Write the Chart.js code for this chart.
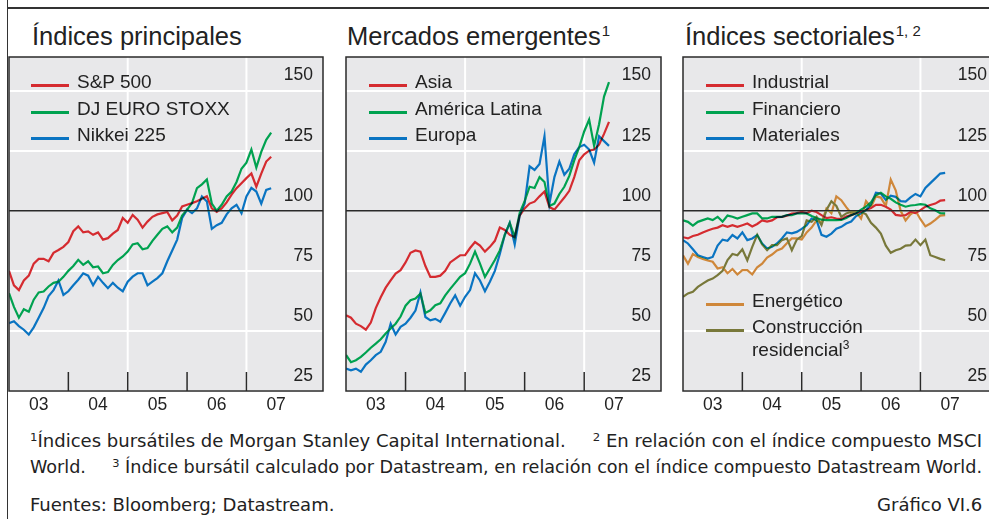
<!DOCTYPE html>
<html>
<head>
<meta charset="utf-8">
<script src="https://cdn.jsdelivr.net/npm/chart.js@4.4.1/dist/chart.umd.min.js"></script>
<style>
  html, body { margin: 0; padding: 0; background: #fff; }
  body { width: 989px; height: 519px; position: relative; overflow: hidden;
         font-family: "Liberation Sans", Arial, sans-serif; color: #222; }
  .frameV { position: absolute; left: 6.5px; top: 0; width: 1.5px; height: 519px; background: #333; }
  .frameH { position: absolute; left: 6.5px; top: 7px; width: 990px; height: 1.5px; background: #333; }
  .title { position: absolute; top: 24px; font-size: 25.5px; line-height: 25px; white-space: nowrap; }
  .title sup { font-size: 15px; vertical-align: 0; position: relative; top: -9px; margin-left: 1px; }
  canvas { position: absolute; top: 55px; }
  .leg { position: absolute; font-size: 19px; line-height: 19px; white-space: nowrap; }
  .leg i { position: absolute; left: -46px; top: 12px; width: 38px; height: 3px; }
  .leg sup { font-size: 12px; vertical-align: 0; position: relative; top: -7px; }
  .note { position: absolute; left: 30px; font-size: 17px; line-height: 17px; white-space: nowrap;
          font-family: "Liberation Sans Narrow", "DejaVu Sans Condensed", "Liberation Sans", sans-serif;
          transform-origin: left top; }
  .note sup { font-size: 11px; vertical-align: 0; position: relative; top: -6px; }
  .note.right { left: auto; right: 7px; transform-origin: right top; }
</style>
</head>
<body>
<div class="frameV"></div>
<div class="frameH"></div>

<div class="title" style="left:32px">Índices principales</div>
<div class="title" style="left:347px">Mercados emergentes<sup>1</sup></div>
<div class="title" style="left:685px">Índices sectoriales<sup>1, 2</sup></div>

<canvas id="c1" width="318" height="366" style="left:7px"></canvas>
<canvas id="c2" width="319" height="366" style="left:344px"></canvas>
<canvas id="c3" width="318" height="366" style="left:681px"></canvas>

<div id="legends"></div>

<div class="note fit" style="top:433px"><sup>1</sup>Índices bursátiles de Morgan Stanley Capital International.&emsp;&ensp;<sup>2</sup> En relación con el índice compuesto MSCI</div>
<div class="note fit" style="top:459px">World.&emsp;&ensp;<sup>3</sup> Índice bursátil calculado por Datastream, en relación con el índice compuesto Datastream World.</div>
<div class="note" style="top:497px">Fuentes: Bloomberg; Datastream.</div>
<div class="note right" style="top:497px">Gráfico VI.6</div>

<script>
// Monthly readings, Jan 2003 - Jun 2007 (index, 2005-07 = 100)
const months = [
  '2003-01','2003-02','2003-03','2003-04','2003-05','2003-06','2003-07','2003-08','2003-09','2003-10','2003-11','2003-12',
  '2004-01','2004-02','2004-03','2004-04','2004-05','2004-06','2004-07','2004-08','2004-09','2004-10','2004-11','2004-12',
  '2005-01','2005-02','2005-03','2005-04','2005-05','2005-06','2005-07','2005-08','2005-09','2005-10','2005-11','2005-12',
  '2006-01','2006-02','2006-03','2006-04','2006-05','2006-06','2006-07','2006-08','2006-09','2006-10','2006-11','2006-12',
  '2007-01','2007-02','2007-03','2007-04','2007-05','2007-06'
];

// Índices principales
const sp500 = [75,69,67,71,73,78,80,80,79,82.5,83.7,85,87,91.5,93.5,91,91.4,90,91,88,88.6,90.5,92,97,95,98.3,96.3,93,95.5,97.5,
  98.5,99,99.5,96,98,101.8,102.5,103.2,104,105,106,101,99.5,101,103.5,106.7,109.4,111.5,113.6,115.5,110,115.5,120.5,122.5];
const euroStoxx = [65.7,60,55.5,59,58,63,66,66.4,68.5,70,70.5,72.5,75,77,79.6,77.5,79,76.5,76.8,74,74.5,77.5,79.5,81,83,86,86.5,84,84.5,87.5,
  90,92.5,93.5,91,93,98,100.5,103.2,109.4,111,113,103,100,102.5,106,108,112,117.5,120,125.5,118,124.5,129.5,132.5];
const nikkei = [53.2,54,52,50.5,48.5,51.5,55.5,59.5,64.5,67,71,65,66.5,69,71.3,74,73,69,72.5,70,67.8,70,68,66.5,70.5,72.6,74,74,69,70.5,
  72,74,79,83.5,88,97,100.5,99,101,106,103.9,92.5,94,95,98.5,101,102.5,99,106,109.5,108,103,108.7,109.4];

// Mercados emergentes
const asia = [56.5,55.5,53,52,50.5,53.5,59.5,64,68,71,73.9,75.3,78.5,82.5,83.5,83,77,72.5,72.5,73,75,78.5,80,81.5,81.5,84.5,87,85.5,83,85,
  87.5,93,92,90,89,98,101,103,103.8,106,108,101.5,100.5,103,105.5,108.3,114,121,123.5,125,125.5,127.5,132,137];
const latina = [40,37,37.8,39.2,41,43,44.7,46.5,48.9,51,53,56,60.5,62.8,63.5,65.5,57.5,58.6,60.7,61.5,64.8,67.5,70,72.5,74,78,83,78,72.5,76,
  79.5,83.5,90,95,89,99,104,110,109.5,114,112,102,103,107,110,114.5,121,126.5,133,138,127,136,147.5,153.5];
const europa = [34.3,33.6,34.3,33,36,37.8,39.9,41.3,45.5,53,48.5,51.7,53,55.5,58.5,66,55.8,54.4,55,53.8,57.5,61.4,64.8,60.5,64.2,67,74,71,66.5,70.5,
  75,82,90,95,86,98,103,118.5,117,119.5,131,103,114,120.5,115,117.5,123.5,126.5,127.5,125.5,120,131,129,127];

// Índices sectoriales
const industrial = [89,88.5,89.5,90,91,91.8,92.5,93,94,93.3,94,93.3,94,94.7,93.5,94.5,96,95.5,96,97.3,97.5,98,98.8,99,99.5,99,100,99.5,98.2,97,
  97.3,96.8,96.5,97.6,98.2,99,99.6,100.3,101.2,102.5,102.5,101.7,100.5,98.3,98,98.2,99.5,99,100.3,101.7,102.4,103,104.2,104.4];
const financiero = [96,95.4,93.8,95.4,96.1,96.8,96.1,97.5,95.5,98,97.5,96.8,97.5,98.2,98.9,98.9,96.8,96.8,97.5,97.5,97.5,98.2,98.2,98.9,98.9,98.9,97.8,97,96.3,96.1,
  96.1,96.1,96.2,97,98.2,99,100.5,101.7,103.5,106.5,107.5,106,105,103.5,102.5,101.7,102.2,102.4,102.8,102.5,101,100.2,99,98.9];
const materiales = [87.8,86.4,84,81.5,80.8,80.1,80.8,85.5,88,87.5,89.9,88.5,91,87.8,88.5,89.9,86.4,84.3,85,86.4,88.5,91,90.6,91.2,92.5,94,96.8,96.1,90,89.2,
  90.5,92.5,93.3,94.7,95.5,97.8,98.9,100.3,102.5,107.5,107.2,104.5,106.3,105.8,104,103.8,105.6,107,106,109.5,111.5,113.5,115.5,115.8];
const energetico = [81.5,78,82,80.8,80,79.3,78.8,76,76.5,74,75.8,73.5,75.3,75.3,73.5,76.5,78,80.5,81.8,83.5,84.3,86.5,88.5,88.5,88,91,93,96,95,101,
  99,106,104.4,101.5,99,99.5,96.8,104,101.5,106,105.5,102,113,108.5,100,96,98.5,100,96.5,93.5,94.7,96.2,98,98.2];
const construccion = [64.2,65.6,66.3,68.3,69.7,71,71.8,73.2,75,79.5,82,81.5,84,79.4,85,90,86,83.6,85.7,85.7,87.8,88.5,83.6,88,89.5,96,95.4,97.5,94,100.3,
  104,102,97.5,98.9,99.6,99.6,99.6,98.5,95,93,90.5,85.5,82.5,83.6,84.2,85.5,85.7,88,85.7,88,81.5,80.8,80,79.4];

const years = [2003, 2004, 2005, 2006, 2007];
const yearLabels = ['03', '04', '05', '06', '07'];
const yTicks = [25, 50, 75, 100, 125, 150];

const RED = '#d52b30', GREEN = '#00a250', BLUE = '#0a74c2', ORANGE = '#cf873a', OLIVE = '#78783a';

const panels = [
  { id: 'c1', textLeft: 77, series: [
      { label: 'S&P 500', data: sp500, color: RED },
      { label: 'DJ EURO STOXX', data: euroStoxx, color: GREEN },
      { label: 'Nikkei 225', data: nikkei, color: BLUE } ] },
  { id: 'c2', textLeft: 415, series: [
      { label: 'Asia', data: asia, color: RED },
      { label: 'América Latina', data: latina, color: GREEN },
      { label: 'Europa', data: europa, color: BLUE } ] },
  { id: 'c3', textLeft: 752, series: [
      { label: 'Energético', data: energetico, color: ORANGE, low: 0 },
      { label: 'Construcción', label2: 'residencial', data: construccion, color: OLIVE, low: 1 },
      { label: 'Industrial', data: industrial, color: RED },
      { label: 'Financiero', data: financiero, color: GREEN },
      { label: 'Materiales', data: materiales, color: BLUE } ] }
];

function toYear(s) {
  const [y, m] = s.split('-').map(Number);
  return y + (m - 1) / 12;
}
const xs = months.map(toYear);

// background, frame, year ticks and 'darken' blending of the lines
const decor = {
  id: 'decor',
  beforeDraw(chart) {
    const { ctx, chartArea: a, scales: { x } } = chart;
    ctx.save();
    ctx.fillStyle = '#e8e8ea';
    ctx.fillRect(a.left, a.top, a.right - a.left, a.bottom - a.top);
    ctx.strokeStyle = '#fff';
    ctx.lineWidth = 2;
    [2005, 2007].forEach(v => {
      const px = x.getPixelForValue(v);
      ctx.beginPath(); ctx.moveTo(px, a.top); ctx.lineTo(px, a.bottom); ctx.stroke();
    });
    ctx.restore();
  },
  beforeDatasetsDraw(chart) {
    chart.ctx.save();
    chart.ctx.globalCompositeOperation = 'darken';
  },
  afterDatasetsDraw(chart) {
    const { ctx, chartArea: a, scales: { x } } = chart;
    ctx.restore();
    ctx.save();
    ctx.strokeStyle = '#2a2a2a';
    ctx.lineWidth = 1.5;
    years.slice(1).forEach(v => {
      const px = x.getPixelForValue(v);
      ctx.beginPath(); ctx.moveTo(px, a.bottom); ctx.lineTo(px, a.bottom - 19); ctx.stroke();
    });
    ctx.strokeRect(a.left, a.top, a.right - a.left, a.bottom - a.top);
    ctx.restore();
  }
};

const tickFont = { family: 'Liberation Sans', size: 17.5 };

panels.forEach(p => {
  const datasets = p.series.map(s => ({
    label: s.label,
    data: xs.map((t, i) => ({ x: t, y: s.data[i] })),
    borderColor: s.color,
    borderWidth: 2.2,
    pointRadius: 0,
    tension: 0,
    fill: false
  }));

  new Chart(document.getElementById(p.id), {
    type: 'line',
    data: { datasets: datasets },
    options: {
      responsive: false,
      animation: false,
      events: [],
      layout: { padding: { left: 2, right: 2, top: 2, bottom: 0 } },
      plugins: { legend: { display: false }, tooltip: { enabled: false } },
      scales: {
        x: {
          type: 'linear', min: 2003, max: 2008.29,
          afterBuildTicks: s => { s.ticks = years.map(v => ({ value: v + 0.5 })); },
          afterFit: s => { s.height = 30; s.paddingLeft = 0; s.paddingRight = 0; },
          border: { display: false },
          grid: { display: false, drawTicks: false },
          ticks: {
            padding: 4, color: '#222', font: tickFont, maxRotation: 0, autoSkip: false,
            callback: (v, i) => yearLabels[i]
          }
        },
        y: {
          position: 'right', min: 25, max: 164,
          afterBuildTicks: s => { s.ticks = yTicks.map(v => ({ value: v })); },
          afterFit: s => { s.width = 0; s.paddingTop = 0; s.paddingBottom = 0; },
          border: { display: false },
          grid: {
            drawTicks: false,
            color: c => (c.tick && c.tick.value === 100) ? '#2a2a2a' : '#ffffff',
            lineWidth: c => (c.tick && c.tick.value === 100) ? 1.5 : 2
          },
          ticks: { mirror: true, padding: -10, labelOffset: -15, color: '#222', font: tickFont }
        }
      }
    },
    plugins: [decor]
  });

  // legend rows
  const box = document.getElementById('legends');
  let upper = 0;
  p.series.forEach(s => {
    const row = document.createElement('div');
    row.className = 'leg';
    let top;
    if (s.low === undefined) { top = 72.2 + upper * 26.3; upper++; }
    else { top = s.low === 0 ? 291 : 317; }
    row.style.left = p.textLeft + 'px';
    row.style.top = top + 'px';
    row.innerHTML = '<i style="background:' + s.color + '"></i>' + s.label;
    box.appendChild(row);
    if (s.label2) {
      const row2 = document.createElement('div');
      row2.className = 'leg';
      row2.style.left = p.textLeft + 'px';
      row2.style.top = (top + 23) + 'px';
      row2.innerHTML = s.label2 + '<sup>3</sup>';
      box.appendChild(row2);
    }
  });
});

// squeeze the two footnote lines to the width of the original lines
const fits = document.querySelectorAll('.note.fit');
let k0 = 1;
fits.forEach((n, i) => {
  const k = 952 / n.getBoundingClientRect().width;
  if (i === 0) k0 = k;
  n.style.transform = 'scaleX(' + k + ')';
});
document.querySelectorAll('.note:not(.fit)').forEach(n => { n.style.transform = 'scaleX(' + k0 + ')'; });
</script>
</body>
</html>
